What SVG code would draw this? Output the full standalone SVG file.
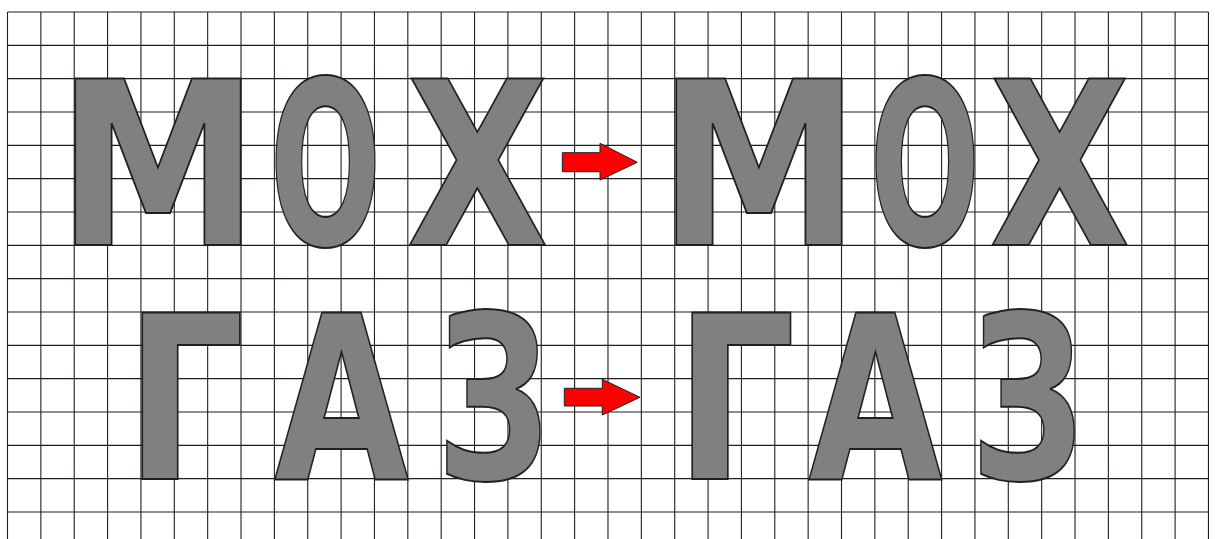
<svg xmlns="http://www.w3.org/2000/svg" width="1215" height="539" viewBox="0 0 1215 539">
<style>
.grid{fill:none;stroke:#231f20;stroke-width:1.1}
.word{font-family:"DejaVu Sans","Liberation Sans",sans-serif;font-weight:bold;font-size:130px;fill:#808080;stroke:#231f20;stroke-width:1.15;stroke-linejoin:miter}
.arrow{fill:#ff0000;stroke:#231f20;stroke-width:1}
</style>
<rect width="1215" height="539" fill="#ffffff"/>
<g id="grid">
<path class="grid" d="M7.5 12V539M40.86 12V539M74.22 12V539M107.58 12V539M140.94 12V539M174.3 12V539M207.66 12V539M241.02 12V539M274.38 12V539M307.74 12V539M341.1 12V539M374.46 12V539M407.82 12V539M441.18 12V539M474.54 12V539M507.9 12V539M541.26 12V539M574.62 12V539M607.98 12V539M641.34 12V539M674.7 12V539M708.06 12V539M741.42 12V539M774.78 12V539M808.14 12V539M841.5 12V539M874.86 12V539M908.22 12V539M941.58 12V539M974.94 12V539M1008.3 12V539M1041.66 12V539M1075.02 12V539M1108.38 12V539M1141.74 12V539M1175.1 12V539M1208.46 12V539
M7.5 12H1208.46M7.5 45.33H1208.46M7.5 78.67H1208.46M7.5 112H1208.46M7.5 145.33H1208.46M7.5 178.67H1208.46M7.5 212H1208.46M7.5 245.33H1208.46M7.5 278.67H1208.46M7.5 312H1208.46M7.5 345.33H1208.46M7.5 378.67H1208.46M7.5 412H1208.46M7.5 445.33H1208.46M7.5 478.67H1208.46M7.5 512H1208.46"/>
</g>
<g id="word-mox-left">
<text class="word" transform="translate(0 245.3) scale(1 1.7615)" y="0"><tspan x="56.6" textLength="203" lengthAdjust="spacingAndGlyphs">М</tspan><tspan x="269.4" textLength="112" lengthAdjust="spacingAndGlyphs">О</tspan><tspan x="406.2" textLength="142.6" lengthAdjust="spacingAndGlyphs">Х</tspan></text>
</g>
<g id="word-mox-right">
<text class="word" transform="translate(0 245.3) scale(1 1.7615)" y="0"><tspan x="657.6" textLength="203" lengthAdjust="spacingAndGlyphs">М</tspan><tspan x="869.4" textLength="111" lengthAdjust="spacingAndGlyphs">О</tspan><tspan x="989" textLength="141.5" lengthAdjust="spacingAndGlyphs">Х</tspan></text>
</g>
<g id="word-gaz-left">
<text class="word" transform="translate(0 478.5) scale(1 1.7615)" y="0"><tspan x="124.9" textLength="120" lengthAdjust="spacingAndGlyphs">Г</tspan><tspan x="274" textLength="135" lengthAdjust="spacingAndGlyphs">А</tspan><tspan x="436.3" textLength="114.3" lengthAdjust="spacingAndGlyphs">З</tspan></text>
</g>
<g id="word-gaz-right">
<text class="word" transform="translate(0 478.5) scale(1 1.7615)" y="0"><tspan x="674.7" textLength="121" lengthAdjust="spacingAndGlyphs">Г</tspan><tspan x="808.3" textLength="134.3" lengthAdjust="spacingAndGlyphs">А</tspan><tspan x="970.3" textLength="114.6" lengthAdjust="spacingAndGlyphs">З</tspan></text>
</g>
<g id="connectors">
<path id="arrow-top" class="arrow" d="M562.3 152.7H600V143.3L637.3 162.3L600 180V171.7H562.3Z"/>
<path id="arrow-bottom" class="arrow" d="M564.3 388.3H602.3V379.3L640 397.3L602.3 415V406H564.3Z"/>
</g>
</svg>
